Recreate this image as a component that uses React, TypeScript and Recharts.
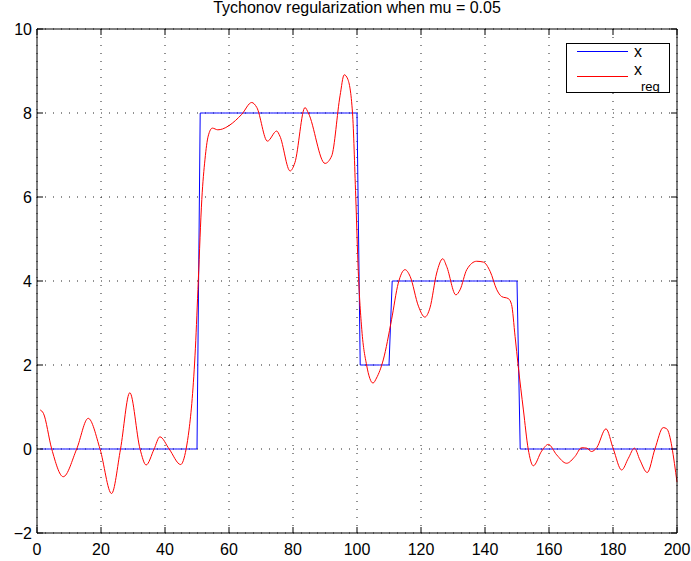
import React from 'react';
import { LineChart, Line, XAxis, YAxis, CartesianGrid, Legend, Label } from 'recharts';

const FONT = '"Liberation Sans", Arial, Helvetica, sans-serif';

// true signal x, piecewise constant over samples 1..200
const segmentStart = [1, 51, 101, 111, 151];
const segmentEnd = [50, 100, 110, 150, 200];
const segmentLevel = [0, 8, 2, 4, 0];

// regularized estimate x_reg (sample index / value)
const regN = [
  1, 2, 4.6, 8.2, 12.4, 16, 19.7, 23.3, 26.1, 29, 32.2, 34.1, 36.6, 38.4, 41.3, 44.9, 46.6,
  47.5, 48.5, 49.5, 50.4, 51.5, 52.5, 53.5, 54.8, 56.5, 58, 60, 64, 67.1, 68.7, 72, 74.9,
  75.9, 79.1, 80.6, 83.75, 84.8, 90, 92.1, 94.7, 96, 97.1, 98.6, 99.6, 100.4, 101.5, 103,
  105, 106.1, 108.2, 110.8, 112.9, 115, 116.6, 119.2, 121.2, 122.8, 124.9, 126.8, 128,
  130.9, 132.2, 134.3, 137.4, 139.5, 141.6, 143.7, 145.2, 147.3, 148.3, 149.4, 150.4, 152,
  153.5, 155.1, 157.7, 159.8, 162.4, 165.5, 168.1, 170.2, 171.8, 173.3, 174.9, 177.8, 180.1,
  182.7, 184.8, 186.7, 188.4, 190.7, 193.1, 195.7, 196.8, 200,
];
const regValue = [
  0.93, 0.85, 0, -0.66, 0, 0.73, 0, -1.06, 0, 1.34, 0, -0.38, 0, 0.29, 0, -0.37, 0,
  0.45, 1.2, 2.4, 4.0, 5.94, 6.9, 7.45, 7.64, 7.6, 7.62, 7.7, 7.97, 8.25, 8.13, 7.33, 7.57,
  7.45, 6.62, 6.82, 8.13, 8.0, 6.8, 6.98, 8.41, 8.91, 8.81, 8.0, 6.02, 4.23, 2.84, 2.0,
  1.57, 1.69, 2.12, 3.08, 3.95, 4.27, 4.11, 3.4, 3.14, 3.36, 4.19, 4.53, 4.35,
  3.67, 3.79, 4.27, 4.47, 4.45, 4.23, 3.79, 3.63, 3.58, 3.44, 2.68, 1.96, 0.93,
  0, -0.4, -0.05, 0.11, -0.14, -0.34, -0.18, 0.03, 0.02, -0.06, 0.03, 0.48, 0,
  -0.5, -0.22, 0.02, -0.26, -0.56, 0, 0.51, 0.48, -0.79,
];

const xTicks = [0, 20, 40, 60, 80, 100, 120, 140, 160, 180, 200];
const yTicks = [-2, 0, 2, 4, 6, 8, 10];

const trueData = segmentStart.flatMap((start, i) => {
  const pts: { n: number; value: number }[] = [];
  for (let n = start; n <= segmentEnd[i]; n++) pts.push({ n, value: segmentLevel[i] });
  return pts;
});
const regData = regN.map((n, i) => ({ n, value: regValue[i] }));

const fmt = (v: number) => (v < 0 ? '\u2212' + Math.abs(v) : String(v));

// ticks point inward, labels sit outside the box
const BottomTick = (props: any) => {
  const { x, y, payload } = props;
  return (
    <g>
      <line x1={x} x2={x} y1={y} y2={y - 6} stroke="#000" />
      <text x={x} y={y + 22} textAnchor="middle" fontSize={16} fontFamily={FONT} fill="#000">
        {fmt(payload.value)}
      </text>
    </g>
  );
};

const LeftTick = (props: any) => {
  const { x, y, payload } = props;
  return (
    <g>
      <line x1={x} x2={x + 6} y1={y} y2={y} stroke="#000" />
      <text x={x - 5} y={y + 6} textAnchor="end" fontSize={16} fontFamily={FONT} fill="#000">
        {fmt(payload.value)}
      </text>
    </g>
  );
};

const TopTick = (props: any) => {
  const { x, y } = props;
  return <line x1={x} x2={x} y1={y} y2={y + 6} stroke="#000" />;
};

const RightTick = (props: any) => {
  const { x, y } = props;
  return <line x1={x} x2={x - 6} y1={y} y2={y} stroke="#000" />;
};

const LegendBox = () => (
  <svg width={104} height={50} style={{ display: 'block' }}>
    <rect x={0.5} y={0.5} width={103} height={49} fill="#fff" stroke="#000" />
    <line x1={11} x2={62} y1={8.5} y2={8.5} stroke="#0000ff" strokeWidth={1.2} />
    <text x={68} y={14} fontSize={16} fontFamily={FONT} fill="#000">x</text>
    <line x1={11} x2={62} y1={33.5} y2={33.5} stroke="#ff0000" strokeWidth={1.2} />
    <text x={68} y={32} fontSize={16} fontFamily={FONT} fill="#000">x</text>
    <text x={75} y={48} fontSize={13} fontFamily={FONT} fill="#000">reg</text>
  </svg>
);

export default function App() {
  return (
    <div style={{ position: 'absolute', left: 0, top: 0, width: 691, height: 561, background: '#fff' }}>
      <LineChart width={691} height={561} margin={{ top: 28, right: 13, bottom: 0, left: 0 }}>
        <CartesianGrid stroke="#222" strokeDasharray="1 7" />
        <XAxis
          dataKey="n"
          type="number"
          domain={[0, 200]}
          ticks={xTicks}
          interval={0}
          height={28}
          tickSize={0}
          tickMargin={0}
          tick={BottomTick}
          axisLine={{ stroke: '#000' }}
        />
        <XAxis
          xAxisId="top"
          orientation="top"
          dataKey="n"
          type="number"
          domain={[0, 200]}
          allowDataOverflow
          ticks={xTicks}
          interval={0}
          height={1}
          tickSize={0}
          tickMargin={0}
          tick={TopTick}
          axisLine={{ stroke: '#000' }}
        >
          <Label
            value="Tychonov regularization when mu = 0.05"
            position="top"
            offset={15}
            fontSize={16}
            fontFamily={FONT}
            fill="#000"
          />
        </XAxis>
        <YAxis
          type="number"
          domain={[-2, 10]}
          ticks={yTicks}
          interval={0}
          width={37}
          tickSize={0}
          tickMargin={0}
          tick={LeftTick}
          axisLine={{ stroke: '#000' }}
        />
        <YAxis
          yAxisId="right"
          orientation="right"
          type="number"
          domain={[-2, 10]}
          allowDataOverflow
          ticks={yTicks}
          interval={0}
          width={1}
          tickSize={0}
          tickMargin={0}
          tick={RightTick}
          axisLine={{ stroke: '#000' }}
        />
        <Legend
          layout="vertical"
          align="center"
          verticalAlign="middle"
          width={104}
          height={50}
          wrapperStyle={{ left: 566, top: 43, width: 104, height: 50 }}
          content={() => <LegendBox />}
        />
        <Line
          data={trueData}
          xAxisId="top"
          yAxisId="right"
          dataKey="value"
          name="x"
          type="linear"
          stroke="#0000ff"
          strokeWidth={1}
          dot={false}
          activeDot={false}
          isAnimationActive={false}
        />
        <Line
          data={regData}
          dataKey="value"
          name="x_reg"
          type="monotone"
          stroke="#ff0000"
          strokeWidth={1}
          dot={false}
          activeDot={false}
          isAnimationActive={false}
        />
      </LineChart>
    </div>
  );
}
